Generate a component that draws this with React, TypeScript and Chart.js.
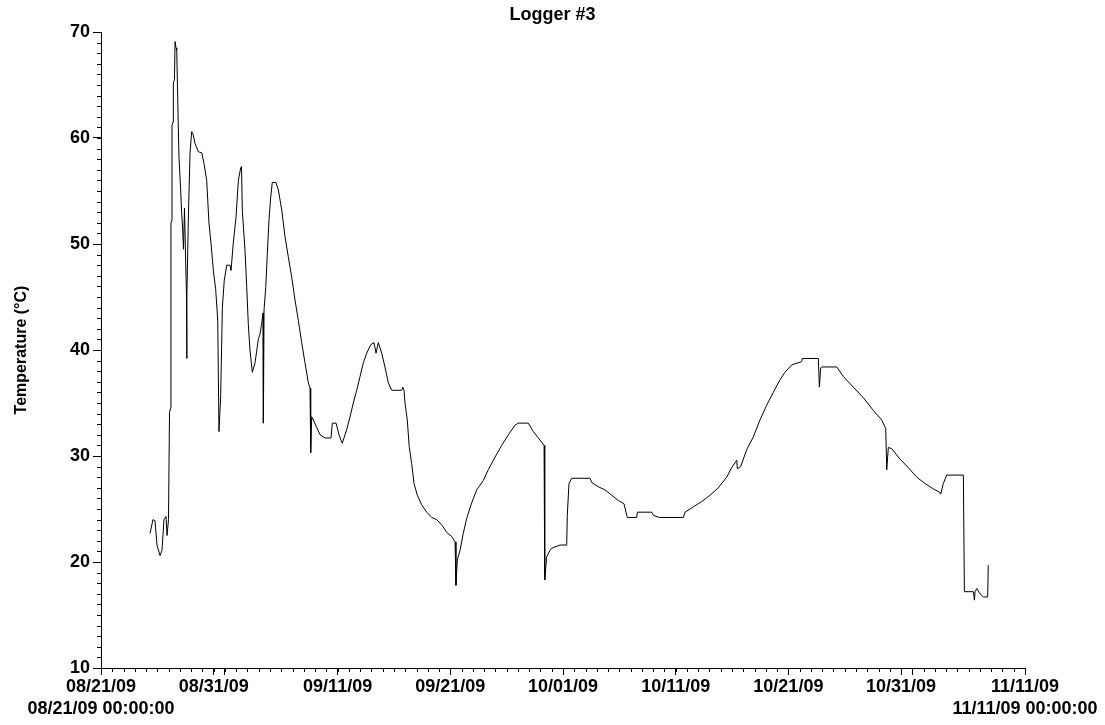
import React, { useEffect, useRef } from "react";
import { Chart, registerables } from "chart.js";

Chart.register(...registerables);

// Days elapsed since 08/21/09 00:00:00
const dayOffsets = [
  4.35, 4.61, 4.79, 4.97, 5.24, 5.41, 5.59, 5.77, 5.86, 5.99, 6.08, 6.17, 6.21, 6.27, 6.3, 6.39, 6.42, 6.52, 6.57, 6.66,
  6.72, 6.81, 6.92, 7.07, 7.16, 7.25, 7.32, 7.41, 7.5, 7.59, 7.61, 7.63, 7.75, 7.9, 8.05, 8.16, 8.34, 8.64, 8.94, 9.14,
  9.38, 9.58, 9.76, 9.97, 10.18, 10.36, 10.47, 10.62, 10.77, 10.94, 11.16, 11.45, 11.54, 11.74, 11.98, 12.19, 12.4, 12.47, 12.54, 12.78,
  12.93, 13.07, 13.22, 13.43, 13.67, 13.96, 14.11, 14.26, 14.38, 14.41, 14.47, 14.62, 14.76, 14.91, 15.06, 15.2, 15.53, 15.74, 16.04, 16.33,
  16.62, 16.92, 17.22, 17.51, 17.81, 18.1, 18.4, 18.55, 18.61, 18.7, 18.84, 19.14, 19.44, 19.88, 20.41, 20.53, 20.86, 21.12, 21.41, 21.81,
  22.1, 22.39, 22.69, 22.99, 23.28, 23.58, 23.94, 24.23, 24.41, 24.61, 24.91, 25.2, 25.5, 25.8, 26.69, 26.78, 26.89, 26.98, 27.18, 27.36,
  27.57, 27.78, 28.07, 28.46, 28.91, 29.35, 29.79, 30.24, 30.68, 31.12, 31.42, 31.5, 31.62, 31.86, 32.15, 32.45, 32.9, 33.34, 33.93, 34.37,
  34.97, 35.56, 36.15, 36.74, 37.03, 37.92, 38.37, 38.81, 39.32, 39.38, 39.55, 39.85, 40.0, 40.74, 41.33, 41.38, 41.53, 41.77, 43.4, 43.55,
  44.13, 44.73, 45.32, 45.91, 46.41, 46.71, 47.54, 47.6, 48.87, 49.02, 49.55, 51.68, 51.83, 52.56, 53.31, 54.05, 54.78, 55.53, 55.97, 56.42,
  56.47, 56.77, 57.3, 57.89, 58.48, 59.08, 59.66, 60.26, 60.7, 61.3, 62.18, 62.24, 63.66, 63.75, 63.87, 63.96, 65.29, 65.88, 66.76, 67.65,
  68.54, 69.28, 69.64, 69.73, 69.87, 70.17, 70.91, 71.65, 72.39, 73.13, 73.86, 74.4, 74.52, 74.75, 75.05, 76.53, 76.62, 77.42, 77.51, 77.57,
  77.72, 78.01, 78.3, 78.69, 78.74,
];

// Temperature (°C)
const temperatures = [
  22.7, 24.0, 23.9, 21.6, 20.6, 21.1, 24.0, 24.3, 22.5, 24.0, 34.1, 34.5, 52.0, 52.2, 61.2, 61.5, 65.2, 65.5, 69.1, 68.5,
  68.3, 63.6, 58.2, 55.1, 52.9, 51.3, 49.5, 53.4, 49.0, 45.0, 39.2, 45.0, 52.3, 58.6, 60.6, 60.4, 59.5, 58.7, 58.6, 57.6,
  56.0, 52.0, 50.1, 47.5, 45.7, 42.8, 32.3, 35.6, 44.0, 46.6, 48.0, 48.0, 47.5, 50.1, 52.5, 56.0, 57.2, 57.3, 53.2, 49.4,
  46.0, 42.5, 40.0, 37.9, 38.8, 41.0, 41.5, 42.5, 43.5, 33.1, 43.8, 45.9, 49.1, 52.3, 54.4, 55.8, 55.8, 55.1, 53.2, 50.7,
  48.8, 46.9, 44.7, 42.8, 40.7, 38.8, 36.9, 36.4, 30.3, 33.7, 33.4, 32.7, 32.0, 31.7, 31.7, 33.1, 33.1, 32.0, 31.2, 32.5,
  33.7, 35.0, 36.2, 37.5, 38.8, 39.7, 40.5, 40.7, 39.7, 40.7, 39.7, 38.4, 36.9, 36.2, 36.2, 36.5, 36.2, 35.0, 33.4, 30.8,
  29.3, 27.4, 26.3, 25.4, 24.7, 24.2, 24.0, 23.5, 22.8, 22.4, 21.9, 17.8, 20.2, 21.1, 22.7, 24.1, 25.6, 26.8, 27.7, 28.7,
  29.9, 31.0, 32.0, 32.9, 33.1, 33.1, 32.3, 31.7, 31.0, 18.3, 20.5, 21.1, 21.3, 21.6, 21.6, 24.4, 27.4, 27.9, 27.9, 27.5,
  27.1, 26.8, 26.3, 25.8, 25.5, 24.2, 24.2, 24.7, 24.7, 24.4, 24.2, 24.2, 24.7, 25.2, 25.7, 26.3, 27.0, 28.0, 28.9, 29.6,
  28.8, 29.0, 30.6, 31.8, 33.4, 34.8, 36.0, 37.2, 37.9, 38.6, 38.9, 39.2, 39.2, 36.5, 38.3, 38.4, 38.4, 37.5, 36.5, 35.5,
  34.3, 33.4, 32.6, 28.7, 30.8, 30.7, 29.7, 28.9, 28.0, 27.4, 26.9, 26.6, 26.4, 27.4, 28.2, 28.2, 17.2, 17.2, 16.4, 17.2,
  17.5, 17.0, 16.7, 16.7, 19.7,
];

const xTickDays = [0, 10, 21, 31, 41, 51, 61, 71, 82];
const xTickLabels = ["08/21/09", "08/31/09", "09/11/09", "09/21/09", "10/01/09", "10/11/09", "10/21/09", "10/31/09", "11/11/09"];
const monthStartDays = [11, 72];
const startStamp = "08/21/09 00:00:00";
const endStamp = "11/11/09 00:00:00";
const yTickValues = [10, 20, 30, 40, 50, 60, 70];

const FONT = "'Liberation Sans', Arial, Helvetica, sans-serif";

const minorTicksPlugin = {
  id: "minorTicks",
  afterDraw(chart: any) {
    const { ctx, chartArea } = chart;
    const x = chart.scales.x;
    const y = chart.scales.y;
    ctx.save();
    ctx.strokeStyle = "#000";
    ctx.lineWidth = 1;
    ctx.beginPath();
    for (let d = x.min; d <= x.max; d++) {
      const px = Math.round(x.getPixelForValue(d)) + 0.5;
      ctx.moveTo(px, chartArea.bottom);
      ctx.lineTo(px, chartArea.bottom + 4);
    }
    for (let v = y.min; v <= y.max; v++) {
      const py = Math.round(y.getPixelForValue(v)) + 0.5;
      ctx.moveTo(chartArea.left - 4, py);
      ctx.lineTo(chartArea.left, py);
    }
    ctx.stroke();
    ctx.restore();
  },
};

export default function App() {
  const canvasRef = useRef<HTMLCanvasElement | null>(null);

  useEffect(() => {
    if (!canvasRef.current) return;
    Chart.defaults.font.family = FONT;
    Chart.defaults.color = "#000";
    const points = dayOffsets.map((d, i) => ({ x: d, y: temperatures[i] }));
    const majorX = [...xTickDays, ...monthStartDays].sort((a, b) => a - b);

    const chart = new Chart(canvasRef.current, {
      type: "scatter",
      data: {
        datasets: [
          {
            label: "Logger #3",
            data: points,
            showLine: true,
            borderColor: "#000",
            backgroundColor: "#000",
            borderWidth: 1,
            pointRadius: 0,
            pointHoverRadius: 0,
            tension: 0,
          },
        ],
      },
      plugins: [minorTicksPlugin],
      options: {
        animation: false,
        responsive: false,
        devicePixelRatio: 1,
        events: [],
        layout: { padding: 0 },
        plugins: {
          legend: { display: false },
          tooltip: { enabled: false },
          title: {
            display: true,
            text: "Logger #3",
            color: "#000",
            font: { family: FONT, size: 18, weight: "bold", lineHeight: 1.2 },
            padding: { top: 4, bottom: 6.4 },
          },
        },
        scales: {
          x: {
            type: "linear",
            position: "bottom",
            min: 0,
            max: 82,
            afterBuildTicks: (scale: any) => {
              scale.ticks = majorX.map((v) => ({ value: v }));
            },
            afterFit: (scale: any) => {
              scale.height = 57;
            },
            ticks: {
              autoSkip: false,
              maxRotation: 0,
              minRotation: 0,
              padding: 1,
              color: "#000",
              font: { family: FONT, size: 18, weight: "bold", lineHeight: 1.22 },
              callback: (value: any) => {
                const i = xTickDays.indexOf(Number(value));
                if (i < 0) return "";
                if (i === 0) return [xTickLabels[i], startStamp];
                if (i === xTickDays.length - 1) return [xTickLabels[i], endStamp];
                return xTickLabels[i];
              },
            },
            grid: {
              drawOnChartArea: false,
              drawTicks: true,
              tickLength: 7,
              tickColor: "#000",
              tickWidth: 1,
            },
            border: { display: true, color: "#000", width: 1 },
          },
          y: {
            type: "linear",
            position: "left",
            min: 10,
            max: 70,
            afterBuildTicks: (scale: any) => {
              scale.ticks = yTickValues.map((v) => ({ value: v }));
            },
            afterFit: (scale: any) => {
              scale.width = 101;
            },
            ticks: {
              padding: 3,
              color: "#000",
              font: { family: FONT, size: 18, weight: "bold" },
            },
            grid: {
              drawOnChartArea: false,
              drawTicks: true,
              tickLength: 8,
              tickColor: "#000",
              tickWidth: 1,
            },
            border: { display: true, color: "#000", width: 1 },
            title: {
              display: true,
              text: "Temperature (°C)",
              color: "#000",
              font: { family: FONT, size: 16, weight: "bold", lineHeight: 1.2 },
              padding: { top: 12, bottom: 0 },
            },
          },
          yRight: {
            type: "linear",
            position: "right",
            min: 10,
            max: 70,
            display: true,
            ticks: { display: false },
            grid: { display: false },
            border: { display: false },
            afterFit: (scale: any) => {
              scale.width = 80;
            },
          },
        },
      },
    } as any);

    return () => chart.destroy();
  }, []);

  return (
    <div style={{ position: "absolute", left: 0, top: 0, width: 1105, height: 725, background: "#fff" }}>
      <canvas ref={canvasRef} width={1105} height={725} style={{ display: "block", width: 1105, height: 725 }} />
    </div>
  );
}
